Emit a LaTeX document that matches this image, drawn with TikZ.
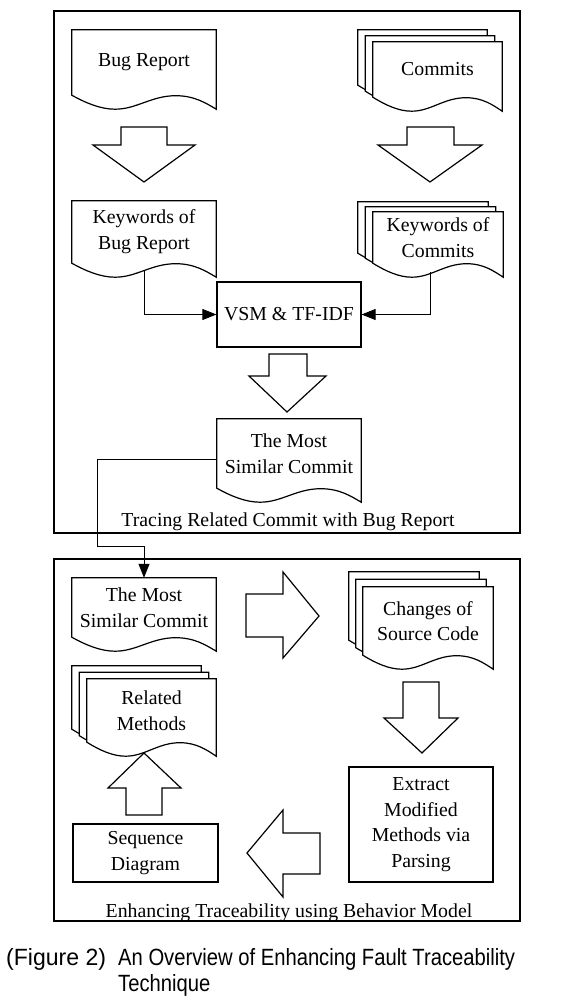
\documentclass[tikz,border=0pt]{standalone}
\usepackage{fontspec}
\setmainfont{Liberation Serif}
\newfontfamily\capfont[FakeStretch=0.86]{Liberation Sans}
\newfontfamily\capwidefont[FakeStretch=0.98]{Liberation Sans}
\usepackage{tikz}
\usetikzlibrary{arrows.meta, positioning, calc}
\pgfdeclarelayer{bg}
\pgfsetlayers{bg,main}

% document sheet with wavy bottom, drawn under the text of node #1, shifted by (#2,#3)
\newcommand{\docshape}[3]{%
  \begin{pgfonlayer}{bg}
  \filldraw[shapeline, fill=white]
    ($(#1.north west)+(#2,#3)$) -- ($(#1.north east)+(#2,#3)$)
    -- ($(#1.south east)+(#2,#3+14)$)
    .. controls ($(#1.south west)!0.93!(#1.south east)+(#2,#3+8)$)
           and ($(#1.south west)!0.85!(#1.south east)+(#2,#3+0.5)$)
    .. ($(#1.south west)!0.72!(#1.south east)+(#2,#3+0.5)$)
    .. controls ($(#1.south west)!0.55!(#1.south east)+(#2,#3+0.5)$)
           and ($(#1.south west)!0.45!(#1.south east)+(#2,#3+14)$)
    .. ($(#1.south west)!0.3!(#1.south east)+(#2,#3+14)$)
    .. controls ($(#1.south west)!0.2!(#1.south east)+(#2,#3+14)$)
           and ($(#1.south west)!0.1!(#1.south east)+(#2,#3+8)$)
    .. ($(#1.south west)+(#2,#3)$) -- cycle;
  \end{pgfonlayer}}

\begin{document}
\begin{tikzpicture}[x=1pt, y=-1pt,
    txt/.style={font=\fontsize{19.8}{25.7}\selectfont, align=center, inner sep=0pt},
    boxnode/.style={txt, draw, line width=1.2pt},
    shapeline/.style={line width=1.2pt, line join=miter},
    flow/.style={line width=1pt, -{Triangle[length=14pt, width=11pt]}},
    blockarrow/.style={line width=1.2pt, fill=white, line join=miter},
    frame/.style={line width=1.4pt},
    capnode/.style={font=\capfont\fontsize{23.5}{28}\selectfont, inner sep=0pt, text height=17pt, text depth=6pt}]
    \useasboundingbox (0,0) rectangle (585,1007);

    % frames
    \draw[frame] (54,11) rectangle (520,533);
    \draw[frame] (54,559) rectangle (520,921);

    % upper part
    \node[txt, minimum width=144pt, minimum height=65pt] (bugrep) at (144,62.5) {Bug Report};
    \node[txt, minimum width=129pt, minimum height=55pt] (commits) at (437.5,69.5) {Commits};
    \node[txt, minimum width=144pt, minimum height=62pt] (kwbug) at (144,232) {Keywords of\\Bug Report};
    \node[txt, minimum width=130pt, minimum height=51pt] (kwcom) at (438,237.5) {Keywords of\\Commits};
    \node[boxnode, minimum width=144pt, minimum height=65pt] (vsm) at (289,314.5) {VSM \& TF-IDF};
    \node[txt, minimum width=144pt, minimum height=69pt] (simtop) at (289,453.5) {The Most\\Similar Commit};
    \node[txt, anchor=base] (title1) at (288,526) {Tracing Related Commit with Bug Report};

    \docshape{bugrep}{0}{0}
    \docshape{commits}{-15}{-12}
    \docshape{commits}{-7.5}{-6}
    \docshape{commits}{0}{0}
    \docshape{kwbug}{0}{0}
    \docshape{kwcom}{-15}{-10}
    \docshape{kwcom}{-7.5}{-5}
    \docshape{kwcom}{0}{0}
    \docshape{simtop}{0}{0}

    \draw[blockarrow] (121,127) -- (167,127) -- (167,145) -- (195,145) -- (144,182) -- (93,145) -- (121,145) -- cycle;
    \draw[blockarrow] (407,127) -- (454,127) -- (454,145) -- (482,145) -- (430,182) -- (378,145) -- (407,145) -- cycle;
    \draw[blockarrow] (269,354) -- (307,354) -- (307,376) -- (326,376) -- (287,412) -- (249,376) -- (269,376) -- cycle;

    \draw[flow] ($(kwbug.south)+(0,7)$) |- (vsm.west);
    \draw[flow] ($(kwcom.south west)!0.44!(kwcom.south east)+(0,9)$) |- (vsm.east);

    % lower part
    \node[txt, minimum width=144pt, minimum height=59pt] (simbot) at (144,607.5) {The Most\\Similar Commit};
    \node[txt, minimum width=130pt, minimum height=68pt] (changes) at (428,621) {Changes of\\Source Code};
    \node[boxnode, minimum width=144pt, minimum height=115pt] (extract) at (421,824.5) {Extract\\Modified\\Methods via\\Parsing};
    \node[boxnode, minimum width=145pt, minimum height=58pt] (seqdiag) at (145.5,853) {Sequence\\Diagram};
    \node[txt, minimum width=129pt, minimum height=63pt] (related) at (151.5,710.5) {Related\\Methods};
    \node[txt, anchor=base] (title2) at (289,917) {Enhancing Traceability using Behavior Model};

    \docshape{simbot}{0}{0}
    \docshape{changes}{-14}{-15}
    \docshape{changes}{-7}{-7.5}
    \docshape{changes}{0}{0}
    \docshape{related}{-15}{-13}
    \docshape{related}{-7.5}{-6.5}
    \docshape{related}{0}{0}

    \draw[blockarrow] (246,594) -- (283,594) -- (283,572) -- (319,616) -- (283,658) -- (283,637) -- (246,637) -- cycle;
    \draw[blockarrow] (403,682) -- (439,682) -- (439,718) -- (458,718) -- (422,753) -- (384,718) -- (403,718) -- cycle;
    \draw[blockarrow] (320,833) -- (283,833) -- (283,810) -- (247,853) -- (283,897) -- (283,874) -- (320,874) -- cycle;
    \draw[blockarrow] (126,815) -- (126,788) -- (108,788) -- (144,753) -- (181,788) -- (162,788) -- (162,815) -- cycle;

    % link between the two parts
    \coordinate (bend) at (97,546);
    \draw[flow] ($(simtop.west)+(0,6)$) -| (bend) -| (simbot.north);

    % caption
    \node[capnode, font=\capwidefont\fontsize{23.5}{28}\selectfont, anchor=base west] (figno) at (6,965) {(Figure 2)};
    \node[capnode, anchor=base west] (captext) at (118,965) {An Overview of Enhancing Fault Traceability};
    \node[capnode, below=3pt of captext.south west, anchor=north west] (captext2) {Technique};
\end{tikzpicture}
\end{document}
